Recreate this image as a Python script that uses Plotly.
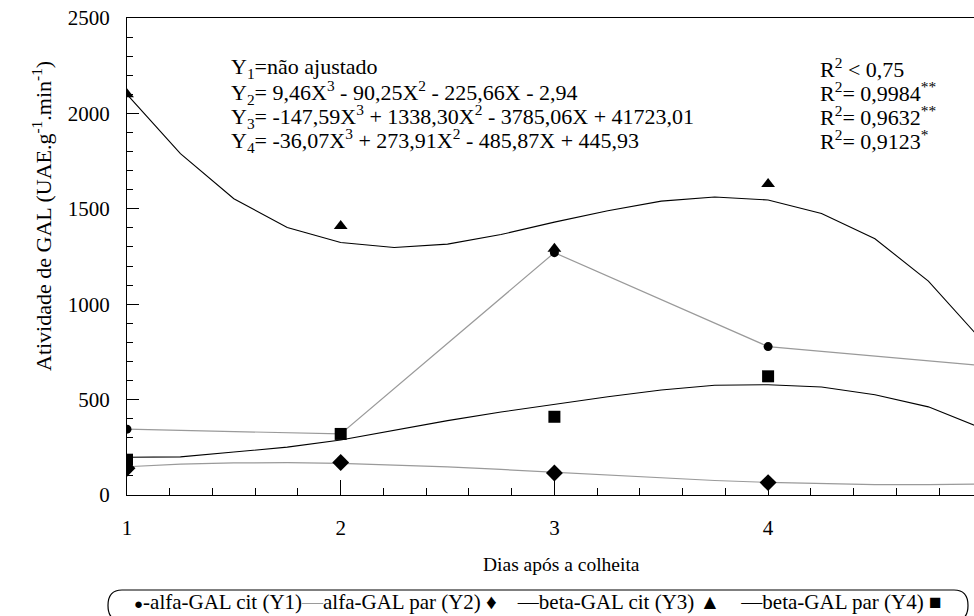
import plotly.graph_objects as go

# ---------------- data ----------------
days = [1, 2, 3, 4, 5]
alfa_cit = [345, 320, 1270, 778, 678]          # Y1 (circles, joined, not fitted)
alfa_par = [140, 170, 115, 65]                 # Y2 observed (diamonds)
beta_cit = [2100, 1410, 1290, 1630]            # Y3 observed (triangles)
beta_par = [185, 320, 410, 622]                # Y4 observed (squares)
obs_days = [1, 2, 3, 4]

fit_x = [1.0, 1.25, 1.5, 1.75, 2.0, 2.25, 2.5, 2.75, 3.0, 3.25, 3.5, 3.75,
         4.0, 4.25, 4.5, 4.75, 5.0]
fit_y2 = [148, 162, 168, 170, 166, 158, 147, 134, 120, 104, 89, 76,
          66, 58, 54, 54, 58]
fit_y3 = [2100, 1789, 1553, 1402, 1323, 1297, 1315, 1365, 1430, 1490, 1540,
          1562, 1546, 1475, 1343, 1121, 810]
fit_y4 = [198, 200, 225, 251, 288, 338, 390, 435, 476, 515, 550, 575,
          578, 566, 525, 462, 350]

yticks = [0, 500, 1000, 1500, 2000, 2500]
xticks = [1, 2, 3, 4]

eq_lines = ["Y<sub>1</sub>=não ajustado",
            "Y<sub>2</sub>= 9,46X<sup>3</sup> - 90,25X<sup>2</sup> - 225,66X - 2,94",
            "Y<sub>3</sub>= -147,59X<sup>3</sup> + 1338,30X<sup>2</sup> - 3785,06X + 41723,01",
            "Y<sub>4</sub>= -36,07X<sup>3</sup> + 273,91X<sup>2</sup> - 485,87X + 445,93"]
r2_lines = ["R<sup>2</sup> < 0,75",
            "R<sup>2</sup>= 0,9984<sup>**</sup>",
            "R<sup>2</sup>= 0,9632<sup>**</sup>",
            "R<sup>2</sup>= 0,9123<sup>*</sup>"]

FONT = "Liberation Serif"
GRAY = "#9a9a9a"

fig = go.Figure()

# fitted curves
fig.add_trace(go.Scatter(x=fit_x, y=fit_y2, mode="lines",
                         line=dict(color=GRAY, width=1.2), showlegend=False))
fig.add_trace(go.Scatter(x=fit_x, y=fit_y3, mode="lines",
                         line=dict(color="black", width=1.1), showlegend=False))
fig.add_trace(go.Scatter(x=fit_x, y=fit_y4, mode="lines",
                         line=dict(color="black", width=1.1), showlegend=False))
# Y1 joined points
fig.add_trace(go.Scatter(x=days, y=alfa_cit, mode="lines+markers",
                         line=dict(color=GRAY, width=1.2),
                         marker=dict(symbol="circle", size=9, color="black"),
                         showlegend=False))
# observed markers
fig.add_trace(go.Scatter(x=obs_days, y=alfa_par, mode="markers",
                         marker=dict(symbol="diamond", size=13, color="black"),
                         showlegend=False))
fig.add_trace(go.Scatter(x=obs_days, y=beta_cit, mode="markers",
                         marker=dict(symbol="triangle-up", size=12, color="black"),
                         showlegend=False))
fig.add_trace(go.Scatter(x=obs_days, y=beta_par, mode="markers",
                         marker=dict(symbol="square", size=12, color="black"),
                         showlegend=False))

W, H = 974, 616
L, T, B = 127, 18, 495
PW, PH = W - L, B - T


def px(xp):
    return (xp - L) / PW


def py(yp):
    return (B - yp) / PH


ann = []
rows = [68, 92, 116, 140]
for txt, r in zip(eq_lines, rows):
    ann.append(dict(x=px(229), y=py(r), xref="paper", yref="paper", text=txt,
                    showarrow=False, xanchor="left", yanchor="middle",
                    font=dict(family=FONT, size=22, color="black")))
for txt, r in zip(r2_lines, rows):
    ann.append(dict(x=px(818), y=py(r), xref="paper", yref="paper", text=txt,
                    showarrow=False, xanchor="left", yanchor="middle",
                    font=dict(family=FONT, size=22, color="black")))

# axis titles
ann.append(dict(x=px(561), y=py(564), xref="paper", yref="paper",
                text="Dias após a colheita", showarrow=False,
                xanchor="center", yanchor="middle",
                font=dict(family=FONT, size=19.5, color="black")))
ann.append(dict(x=px(42), y=py(216), xref="paper", yref="paper",
                text="Atividade de GAL (UAE.g<sup>-1</sup>.min<sup>-1</sup>)",
                showarrow=False, textangle=-90,
                xanchor="center", yanchor="middle",
                font=dict(family=FONT, size=22, color="black")))

# legend as text
legend_txt = ("<span style='font-size:15px'>●</span>-alfa-GAL cit (Y1)"
              "<span style='color:#9a9a9a'>—</span>alfa-GAL par (Y2) ♦    "
              "—beta-GAL cit (Y3) ▲    —beta-GAL par (Y4) ■")
ann.append(dict(x=px(538), y=py(602), xref="paper", yref="paper",
                text=legend_txt, showarrow=False,
                xanchor="center", yanchor="middle",
                font=dict(family=FONT, size=21, color="black")))

# pill-shaped legend frame (bottom runs off the page like the reference)
x0, x1, y0, y1 = px(108), px(968), py(590), py(621)
rx = 14 / PW
ym = (y0 + y1) / 2
path = (f"M {x0+rx} {y0} L {x1-rx} {y0} Q {x1} {y0} {x1} {ym} "
        f"Q {x1} {y1} {x1-rx} {y1} L {x0+rx} {y1} Q {x0} {y1} {x0} {ym} "
        f"Q {x0} {y0} {x0+rx} {y0} Z")
shapes = [dict(type="path", path=path, xref="paper", yref="paper",
               line=dict(color="black", width=1.2))]

fig.update_layout(
    width=W, height=H,
    margin=dict(l=L, r=0, t=T, b=H - B),
    paper_bgcolor="white", plot_bgcolor="white",
    showlegend=False,
    annotations=ann, shapes=shapes,
    font=dict(family=FONT, color="black"),
)
fig.update_xaxes(range=[1, 1 + PW / 213.7], tickvals=xticks,
                 ticks="inside", ticklen=15, tickwidth=1, tickcolor="black",
                 minor=dict(dtick=0.2, tick0=1, ticks="inside", ticklen=7,
                            tickcolor="black", tickwidth=1),
                 showline=True, linecolor="black", linewidth=1.2, mirror=True,
                 showgrid=False, zeroline=False, ticklabelstandoff=14,
                 tickfont=dict(family=FONT, size=21, color="black"))
fig.update_yaxes(range=[0, 2500], tickvals=yticks,
                 ticks="inside", ticklen=12, tickwidth=1, tickcolor="black",
                 minor=dict(dtick=100, ticks="inside", ticklen=6,
                            tickcolor="black", tickwidth=1),
                 showline=True, linecolor="black", linewidth=1.2,
                 showgrid=False, zeroline=False, ticklabelstandoff=12,
                 tickfont=dict(family=FONT, size=21, color="black"))

fig.write_html("out.html", config={"displayModeBar": False},
               post_script="document.body.style.margin='0';"
                           "document.body.style.overflow='hidden';")
